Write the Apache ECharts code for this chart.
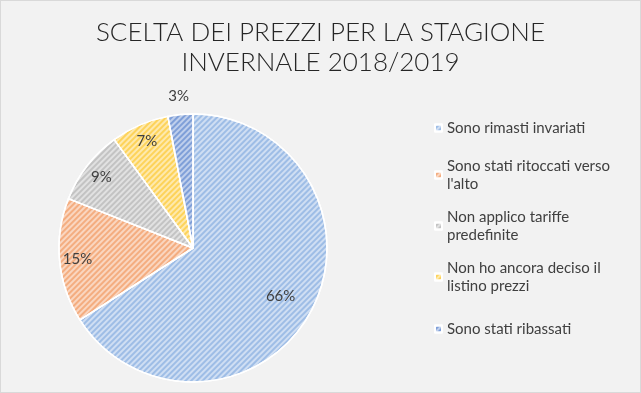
<!DOCTYPE html>
<html>
<head>
<meta charset="utf-8">
<script src="https://cdn.jsdelivr.net/npm/echarts@6/dist/echarts.min.js"></script>
<style>
html,body{margin:0;padding:0;background:#f2f2f2;}
#c{width:639px;height:391px;border:1px solid #d9d9d9;background:#f2f2f2;}
</style>
</head>
<body>
<div id="c"></div>
<script>
const titleLines = ['SCELTA DEI PREZZI PER LA STAGIONE', 'INVERNALE 2018/2019'];
const categories = ['Sono rimasti invariati', 'Sono stati ritoccati verso l\'alto', 'Non applico tariffe predefinite', 'Non ho ancora deciso il listino prezzi', 'Sono stati ribassati'];
const legendLines = [['Sono rimasti invariati'], ['Sono stati ritoccati verso', 'l\'alto'], ['Non applico tariffe', 'predefinite'], ['Non ho ancora deciso il', 'listino prezzi'], ['Sono stati ribassati']];
const values = [66, 15, 9, 7, 3];
const colors = ['#9ebde6', '#f4ad80', '#c3c3c3', '#fdd35a', '#7f9fd8'];
const labelRing = [1, 0, 0, 0, 2]; // which label ring each value label sits on

const font = 'Lato, "DejaVu Sans", sans-serif';
const txt = '#404040';
const decal = {symbol: 'rect', symbolSize: 1, color: 'rgba(255,255,255,0.5)', dashArrayX: [1, 0], dashArrayY: [1.5, 1.5], rotation: -Math.PI / 4};

const chart = echarts.init(document.getElementById('c'));
const mainData = categories.map((n, i) => ({name: n, value: values[i], itemStyle: {color: colors[i], decal: decal}}));
const ringRadii = [[102, 124], [86, 108], [140, 160]];
const labelSeries = ringRadii.map((r, k) => ({
  type: 'pie', center: [192, 247], radius: r, startAngle: 90, clockwise: true,
  silent: true, legendHoverLink: false, animation: false,
  itemStyle: {color: 'rgba(0,0,0,0)', borderWidth: 0},
  emphasis: {disabled: true},
  label: {position: 'inside', color: txt, fontSize: 15, fontFamily: font, formatter: '{c}%'},
  labelLine: {show: false},
  data: categories.map((n, i) => ({name: n, value: values[i], label: {show: labelRing[i] === k}}))
}));
const legendCenters = [122, 169, 220, 271, 323];
const legends = categories.map((n, i) => {
  const two = legendLines[i].length > 1;
  return {
    orient: 'vertical', left: 428, top: two ? legendCenters[i] - 27 : legendCenters[i] - 9,
    itemWidth: 7, itemHeight: 7, itemGap: 0, selectedMode: false,
    icon: 'rect',
    data: [n],
    formatter: () => legendLines[i].join('\n'),
    textStyle: {color: txt, fontSize: 15, fontFamily: font, lineHeight: 18, padding: two ? [18, 0, 0, 0] : 0}
  };
});
chart.setOption({
  backgroundColor: '#f2f2f2',
  title: {
    text: titleLines.join('\n'), left: 'center', top: 12,
    textStyle: {color: '#262626', fontSize: 26, fontWeight: 300, fontFamily: font, lineHeight: 30},
  },
  legend: legends,
  series: [{
    type: 'pie', center: [192, 247], radius: [0, 134], startAngle: 90, clockwise: true,
    animation: false,
    itemStyle: {borderColor: '#ffffff', borderWidth: 1.5},
    label: {show: false}, labelLine: {show: false},
    data: mainData
  }].concat(labelSeries)
});
</script>
</body>
</html>
